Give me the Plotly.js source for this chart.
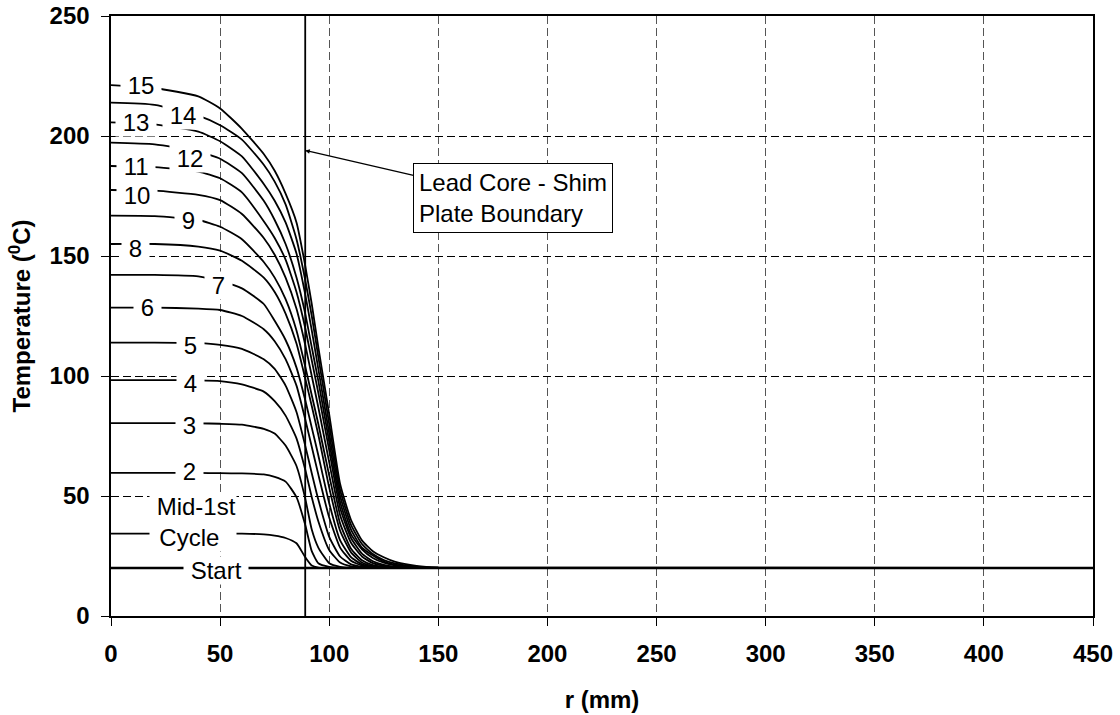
<!DOCTYPE html>
<html>
<head>
<meta charset="utf-8">
<script src="https://cdn.plot.ly/plotly-3.0.1.min.js"></script>
<style>
  html, body { margin: 0; padding: 0; background: #fff; }
  #chart { width: 1120px; height: 715px; }
</style>
</head>
<body>
<div id="chart"></div>
<script>
// radial position (mm)
const rMM = [0, 20, 40, 50, 60, 70, 75, 80, 85, 89, 92, 95, 100, 105, 110, 115, 120, 125, 130, 140, 150, 450];

// temperature profiles (deg C)
const tStart   = [20, 20, 20, 20, 20, 20, 20, 20, 20, 20, 20, 20, 20, 20, 20, 20, 20, 20, 20, 20, 20, 20];
const tMid1st  = [34.3, 34.3, 34.3, 34.3, 34.3, 34, 33.5, 32.5, 30.3, 24.5, 21, 20.2, 20, 20, 20, 20, 20, 20, 20, 20, 20, 20];
const tCycle2  = [59.6, 59.6, 59.6, 59.5, 59.4, 59, 58, 56, 49.5, 38, 27, 22, 20.5, 20.1, 20, 20, 20, 20, 20, 20, 20, 20];
const tCycle3  = [80.4, 80.4, 80.3, 80.1, 79.7, 78, 76, 71, 62.5, 49, 36, 28.5, 22, 20.5, 20.1, 20, 20, 20, 20, 20, 20, 20];
const tCycle4  = [98.3, 98.3, 98.2, 97.9, 96.5, 93.5, 89.5, 83.5, 74, 61, 49.5, 39.5, 27.5, 22.3, 20.7, 20.2, 20, 20, 20, 20, 20, 20];
const tCycle5  = [113.9, 113.9, 113.7, 113, 111.3, 107, 103, 96, 85, 71, 59.5, 48.5, 33, 24.8, 21.5, 20.5, 20.1, 20, 20, 20, 20, 20];
const tCycle6  = [128.5, 128.5, 128.1, 127.5, 125, 119.5, 114.5, 107, 96, 82, 70.5, 59, 41, 28.5, 23, 21, 20.3, 20.1, 20, 20, 20, 20];
const tCycle7  = [142.1, 142.1, 141.5, 139.5, 136.5, 130, 123, 115, 103.5, 90, 78.5, 67, 47, 31.5, 24.5, 21.5, 20.5, 20.2, 20, 20, 20, 20];
const tCycle8  = [155, 155, 153.9, 152.2, 148, 141, 135, 126, 113.5, 99, 87.5, 75.5, 53.5, 35.5, 26.5, 22.3, 20.8, 20.3, 20.1, 20, 20, 20];
const tCycle9  = [166.8, 166.6, 165, 162.2, 157, 147.5, 141, 132, 119, 104, 92, 80, 58.5, 38.5, 28, 23.2, 21.2, 20.5, 20.2, 20, 20, 20];
const tCycle10 = [177.5, 177.2, 175.5, 173.3, 167.5, 157.5, 150.5, 141, 128, 113, 100, 87, 64, 42, 30.5, 24.8, 22, 20.9, 20.4, 20.1, 20, 20];
const tCycle11 = [187.5, 187, 185.2, 182.4, 176.5, 164.5, 157.5, 148.5, 135, 120, 106.5, 93, 69, 45, 32.5, 26, 22.8, 21.3, 20.6, 20.2, 20, 20];
const tCycle12 = [197.2, 196.5, 193.5, 190.5, 184.5, 173, 165, 155, 141, 126, 112, 98, 72.5, 47.5, 34, 27.8, 24.2, 22.2, 21.1, 20.3, 20, 20];
const tCycle13 = [205.7, 204.8, 201.8, 197.8, 191.5, 180, 173, 164, 151, 134, 119, 103, 76, 50, 36, 28.5, 25.2, 22.7, 21.4, 20.4, 20.05, 20];
const tCycle14 = [213.9, 213, 208.5, 204.5, 198.5, 188, 181, 171.5, 157, 140, 125, 108, 80, 52.5, 38, 30, 25.8, 23.3, 21.9, 20.6, 20.1, 20];
const tCycle15 = [221.2, 220, 216.5, 211.5, 203, 192.5, 185.5, 176, 164, 146, 130, 112, 84, 55, 40, 31.5, 27, 24.5, 22.7, 20.9, 20.2, 20];

const seriesNames = ["Start", "Mid-1st<br>Cycle", "2", "3", "4", "5", "6", "7", "8", "9", "10", "11", "12", "13", "14", "15"];
const seriesValues = [tStart, tMid1st, tCycle2, tCycle3, tCycle4, tCycle5, tCycle6, tCycle7, tCycle8,
                      tCycle9, tCycle10, tCycle11, tCycle12, tCycle13, tCycle14, tCycle15];

// data-label anchor points (r, T)
const labelR = [48.1, 37.4, 35.9, 35.9, 36.2, 36.2, 16.8, 49.2, 11, 35.4, 11.8, 11.5, 36.2, 11.5, 33.1, 13.6];
const labelT = [19, 39.3, 60.1, 79.2, 97, 112.9, 128.5, 137.9, 153.2, 165, 175.4, 187.2, 190.7, 205.7, 208.7, 221.2];

// lead core - shim plate boundary
const boundaryR = 89;
const calloutText = "Lead Core - Shim<br>Plate Boundary";
const calloutTip = [89, 194];
const calloutBox = [184.2, 174];

const FONT = "Arial, 'Liberation Sans', Helvetica, sans-serif";

const traces = seriesValues.map((vals, i) => ({
  x: rMM,
  y: vals,
  type: "scatter",
  mode: "lines",
  name: seriesNames[i],
  line: { color: "#000", width: i === 0 ? 2.4 : 1.8, shape: "spline", smoothing: 0.5 },
  hoverinfo: "skip"
}));

traces.push({
  x: [boundaryR, boundaryR],
  y: [0, 250],
  type: "scatter",
  mode: "lines",
  line: { color: "#000", width: 1.8 },
  hoverinfo: "skip"
});

const annotations = seriesNames.map((txt, i) => ({
  x: labelR[i],
  y: labelT[i],
  xref: "x",
  yref: "y",
  text: "\u00a0" + txt + "\u00a0",
  showarrow: false,
  bgcolor: "#fff",
  borderpad: 0,
  font: { family: FONT, size: 24, color: "#000" }
}));

annotations.push({
  x: calloutTip[0],
  y: calloutTip[1],
  xref: "x",
  yref: "y",
  ax: calloutBox[0],
  ay: calloutBox[1],
  axref: "x",
  ayref: "y",
  text: calloutText,
  align: "left",
  showarrow: true,
  arrowhead: 2,
  arrowsize: 0.7,
  arrowwidth: 1.3,
  arrowcolor: "#000",
  bgcolor: "#fff",
  bordercolor: "#000",
  borderwidth: 1,
  borderpad: 5,
  font: { family: FONT, size: 24, color: "#000" }
});

const axisCommon = {
  showline: true,
  linecolor: "#000",
  linewidth: 1.6,
  mirror: true,
  ticks: "outside",
  ticklen: 8,
  tickwidth: 1,
  tickcolor: "#000",
  zeroline: false,
  showgrid: true,
  griddash: "8px,4px",
  gridwidth: 1,
  tickfont: { family: FONT, size: 24, color: "#000", weight: "bold" }
};

const layout = {
  width: 1120,
  height: 715,
  margin: { l: 111, r: 27, t: 16, b: 99 },
  paper_bgcolor: "#fff",
  plot_bgcolor: "#fff",
  showlegend: false,
  xaxis: Object.assign({}, axisCommon, {
    range: [0, 450],
    tick0: 0,
    dtick: 50,
    gridcolor: "#555",
    ticklabelstandoff: 8,
    title: { text: "r (mm)", standoff: 25, font: { family: FONT, size: 24, color: "#000", weight: "bold" } }
  }),
  yaxis: Object.assign({}, axisCommon, {
    range: [0, 250],
    tick0: 0,
    dtick: 50,
    gridcolor: "#000",
    ticklabelstandoff: 7,
    title: { text: "Temperature (<sup>0</sup>C)", standoff: 12, font: { family: FONT, size: 24, color: "#000", weight: "bold" } }
  }),
  annotations: annotations
};

Plotly.newPlot("chart", traces, layout, { staticPlot: true, displayModeBar: false });
</script>
</body>
</html>
